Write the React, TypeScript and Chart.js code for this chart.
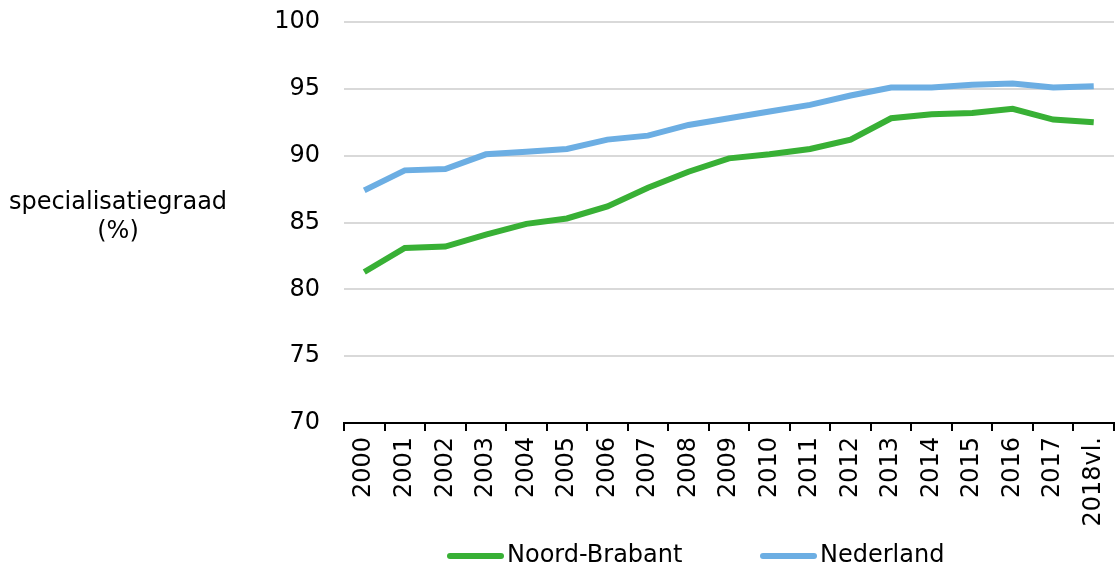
import React, { useEffect, useRef } from "react";
import { Chart, registerables } from "chart.js";

Chart.register(...registerables);

const years = ["2000","2001","2002","2003","2004","2005","2006","2007","2008","2009","2010","2011","2012","2013","2014","2015","2016","2017","2018vl."];
const noordBrabant = [81.3,83.1,83.2,84.1,84.9,85.3,86.2,87.6,88.8,89.8,90.1,90.5,91.2,92.8,93.1,93.2,93.5,92.7,92.5];
const nederland = [87.4,88.9,89.0,90.1,90.3,90.5,91.2,91.5,92.3,92.8,93.3,93.8,94.5,95.1,95.1,95.3,95.4,95.1,95.2];
const yTitle = ["specialisatiegraad", "(%)"];
const FONT = "'DejaVu Sans', Verdana, sans-serif";
const FS = 24;

export default function App() {
  const ref = useRef<HTMLCanvasElement>(null);
  useEffect(() => {
    const extras = {
      id: "extras",
      afterDraw(chart: any) {
        const ctx = chart.ctx;
        ctx.save();
        ctx.fillStyle = "#000";
        ctx.font = `${FS}px ${FONT}`;
        ctx.textAlign = "center";
        ctx.textBaseline = "middle";
        ctx.fillText(yTitle[0], 118, 203);
        ctx.fillText(yTitle[1], 118, 232);
        // legend
        const items = [
          { x: 450, ds: chart.data.datasets[0] },
          { x: 763, ds: chart.data.datasets[1] },
        ];
        ctx.textAlign = "left";
        items.forEach((it) => {
          ctx.strokeStyle = it.ds.borderColor;
          ctx.lineWidth = 6;
          ctx.lineCap = "round";
          ctx.beginPath();
          ctx.moveTo(it.x, 556);
          ctx.lineTo(it.x + 51, 556);
          ctx.stroke();
          ctx.fillText(it.ds.label, it.x + 57, 556);
        });
        ctx.restore();
      },
    };
    const chart = new Chart(ref.current!, {
      type: "line",
      data: {
        labels: years,
        datasets: [
          { label: "Noord-Brabant", data: noordBrabant, borderColor: "#38b035", backgroundColor: "#38b035", borderWidth: 6, pointRadius: 0, tension: 0 },
          { label: "Nederland", data: nederland, borderColor: "#6caee3", backgroundColor: "#6caee3", borderWidth: 6, pointRadius: 0, tension: 0 },
        ],
      },
      options: {
        animation: false,
        responsive: false,
        layout: { padding: { left: 0, top: 0, right: 4, bottom: 0 } },
        plugins: { legend: { display: false }, tooltip: { enabled: false } },
        scales: {
          x: {
            offset: true,
            afterFit: (s: any) => { s.height = 149; s.paddingRight = 0; },
            grid: { display: true, drawOnChartArea: false, drawTicks: true, tickLength: 8, offset: true, color: "#000", lineWidth: 2 },
            border: { display: true, color: "#000", width: 2 },
            ticks: { autoSkip: false, minRotation: 90, maxRotation: 90, color: "#000", font: { family: FONT, size: FS }, padding: 6 },
          },
          y: {
            min: 70,
            max: 100,
            afterFit: (s: any) => { s.width = 344; s.paddingTop = 22; },
            grid: { color: "#d9d9d9", lineWidth: 2, drawTicks: false },
            border: { display: false },
            ticks: { stepSize: 5, color: "#000", font: { family: FONT, size: FS }, padding: 24 },
          },
        },
      },
      plugins: [extras],
    });
    return () => chart.destroy();
  }, []);
  return (
    <div style={{ position: "absolute", left: 0, top: 0, width: 1118, height: 572, background: "#fff" }}>
      <canvas ref={ref} width={1118} height={572} />
    </div>
  );
}
